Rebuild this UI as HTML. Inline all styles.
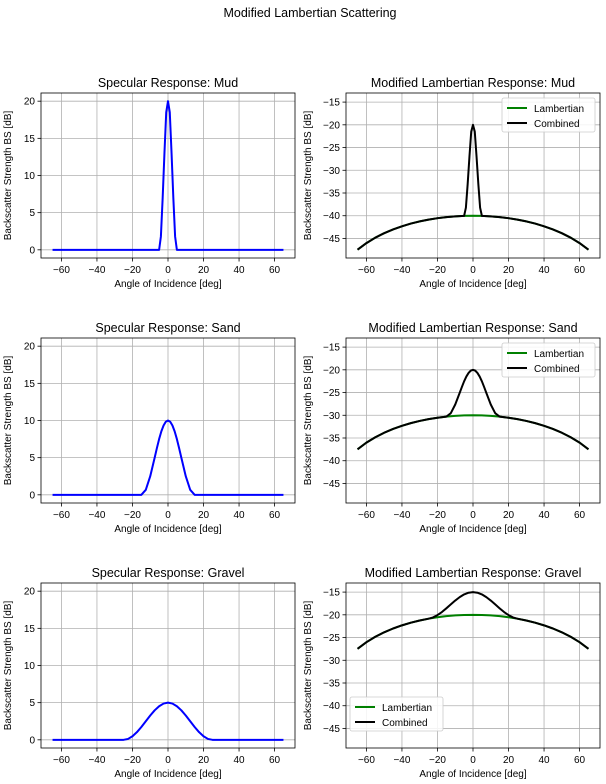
<!DOCTYPE html>
<html><head><meta charset="utf-8">
<style>
body{margin:0;background:#fff;}
svg{display:block;font-family:"Liberation Sans","DejaVu Sans",sans-serif;}
</style></head>
<body>
<svg id="fig" width="606" height="784"></svg>
<script>
// ---- data ----
const lambAngles = [-65,-60,-55,-50,-45,-40,-35,-30,-25,-20,-15,-10,-5,0,5,10,15,20,25,30,35,40,45,50,55,60,65];
const lambShape = [-7.48,-6.02,-4.83,-3.84,-3.01,-2.32,-1.73,-1.25,-0.85,-0.54,-0.30,-0.13,-0.03,0,-0.03,-0.13,-0.30,-0.54,-0.85,-1.25,-1.73,-2.32,-3.01,-3.84,-4.83,-6.02,-7.48];
const lambBase = [-40,-30,-20];
const titles = ["Mud","Sand","Gravel"];
const mudAngles = [-65,-5,-4,-3,-2,-1,0,1,2,3,4,5,65];
const mudSpec = [0,0,1.8,7,13,18.5,20,18.5,13,7,1.8,0,0];
const sandAngles = [-65,-15,-12.5,-10,-7.5,-6.25,-5,-3.75,-2.5,-1.25,0,1.25,2.5,3.75,5,6.25,7.5,10,12.5,15,65];
const sandSpec = [0,0,0.67,2.5,5,6.29,7.5,8.54,9.33,9.83,10,9.83,9.33,8.54,7.5,6.29,5,2.5,0.67,0,0];
const gravAngles = [-65,-25,-22.5,-20,-17.5,-15,-12.5,-10,-7.5,-5,-2.5,0,2.5,5,7.5,10,12.5,15,17.5,20,22.5,25,65];
const gravSpec = [0,0,0.12,0.48,1.03,1.73,2.5,3.27,3.97,4.52,4.88,5,4.88,4.52,3.97,3.27,2.5,1.73,1.03,0.48,0.12,0,0];
const xTicks = [-60,-40,-20,0,20,40,60];
const leftYTicks = [0,5,10,15,20];
const rightYTicks = [-45,-40,-35,-30,-25,-20,-15];

const specAngles=[mudAngles,sandAngles,gravAngles];
const specVals=[mudSpec,sandSpec,gravSpec];
const NS="http://www.w3.org/2000/svg";
const svg=document.getElementById('fig');
function mk(tag,attrs,parent,text){const e=document.createElementNS(NS,tag);for(const k in attrs)e.setAttribute(k,attrs[k]);if(text!==undefined)e.textContent=text;(parent||svg).appendChild(e);return e;}
function interp(xs,ys,x){for(let i=0;i<xs.length-1;i++){if(x>=xs[i]&&x<=xs[i+1]){const t=(x-xs[i])/(xs[i+1]-xs[i]);return ys[i]+t*(ys[i+1]-ys[i]);}}return ys[ys.length-1];}

let t=mk('text',{x:310,y:17,'text-anchor':'middle','font-size':12.5},svg,'Modified Lambertian Scattering');


const W=254,H=165;
for(let r=0;r<3;r++){
  const top=93+r*245;
  for(let c=0;c<2;c++){
    const left=c?346:41;
    const g=mk('g',{});
    
    
    const xmin=-71.5,xmax=71.5;
    const ymin=c?-49.3:-1.1, ymax=c?-13.0:21.1;
    const X=v=>left+(v-xmin)/(xmax-xmin)*W;
    const Y=v=>top+H-(v-ymin)/(ymax-ymin)*H;
    const yt=c?rightYTicks:leftYTicks;
    for(const v of xTicks){
      mk('line',{x1:X(v),x2:X(v),y1:top,y2:top+H,stroke:'#b0b0b0','stroke-width':0.8},g);
      mk('line',{x1:X(v),x2:X(v),y1:top+H,y2:top+H+3.5,stroke:'#000','stroke-width':0.8},g);
      const tx=mk('text',{x:X(v),y:top+H+15,'text-anchor':'middle','font-size':10},g,(v<0?'\u2212'+(-v):v));
      
    }
    for(const v of yt){
      mk('line',{x1:left,x2:left+W,y1:Y(v),y2:Y(v),stroke:'#b0b0b0','stroke-width':0.8},g);
      mk('line',{x1:left-3.5,x2:left,y1:Y(v),y2:Y(v),stroke:'#000','stroke-width':0.8},g);
      const ty=mk('text',{x:left-6,y:Y(v)+3.5,'text-anchor':'end','font-size':10},g,(v<0?'\u2212'+(-v):v));
      
    }
    const ttl=mk('text',{x:left+W/2,y:top-6,'text-anchor':'middle','font-size':12.5},g,(c?'Modified Lambertian Response: ':'Specular Response: ')+titles[r]);
    
    const xl=mk('text',{x:left+W/2,y:top+H+29,'text-anchor':'middle','font-size':10},g,'Angle of Incidence [deg]');
    
    const yl=mk('text',{x:0,y:0,'text-anchor':'middle','font-size':10,transform:`translate(${left-(c?35:30)},${top+H/2}) rotate(-90)`},g,'Backscatter Strength BS [dB]');
    
    const sa=specAngles[r], sv=specVals[r];
    if(!c){
      const p=mk('polyline',{points:sa.map((a,i)=>X(a)+','+Y(sv[i])).join(' '),fill:'none',stroke:'#0000ff','stroke-width':2,'stroke-linejoin':'round'},g);
      
    } else {
      const lam=lambShape.map(v=>v+lambBase[r]);
      const p1=mk('polyline',{points:lambAngles.map((a,i)=>X(a)+','+Y(lam[i])).join(' '),fill:'none',stroke:'#008000','stroke-width':2},g);
      
      const angs=[...new Set(lambAngles.concat(sa))].sort((a,b)=>a-b);
      const comb=angs.map(a=>interp(lambAngles,lam,a)+interp(sa,sv,a));
      const p2=mk('polyline',{points:angs.map((a,i)=>X(a)+','+Y(comb[i])).join(' '),fill:'none',stroke:'#000','stroke-width':2,'stroke-linejoin':'round'},g);
      
      const lx=r==2?left+4:left+W-98, ly=r==2?top+H-51:top+5;
      const lg=mk('g',{},g);
      
      mk('rect',{x:lx,y:ly,width:93,height:34,rx:2,fill:'#fff','fill-opacity':0.85,stroke:'#ccc','stroke-width':0.8},lg);
      mk('line',{x1:lx+5,x2:lx+25,y1:ly+10,y2:ly+10,stroke:'#008000','stroke-width':2},lg);
      mk('line',{x1:lx+5,x2:lx+25,y1:ly+25,y2:ly+25,stroke:'#000','stroke-width':2},lg);
      const e1=mk('text',{x:lx+32,y:ly+14,'font-size':10},lg,'Lambertian');
      
      const e2=mk('text',{x:lx+32,y:ly+29,'font-size':10},lg,'Combined');
      
    }
    mk('rect',{x:left,y:top,width:W,height:H,fill:'none',stroke:'#000','stroke-width':0.8},g);
  }
}
</script>
</body></html>
